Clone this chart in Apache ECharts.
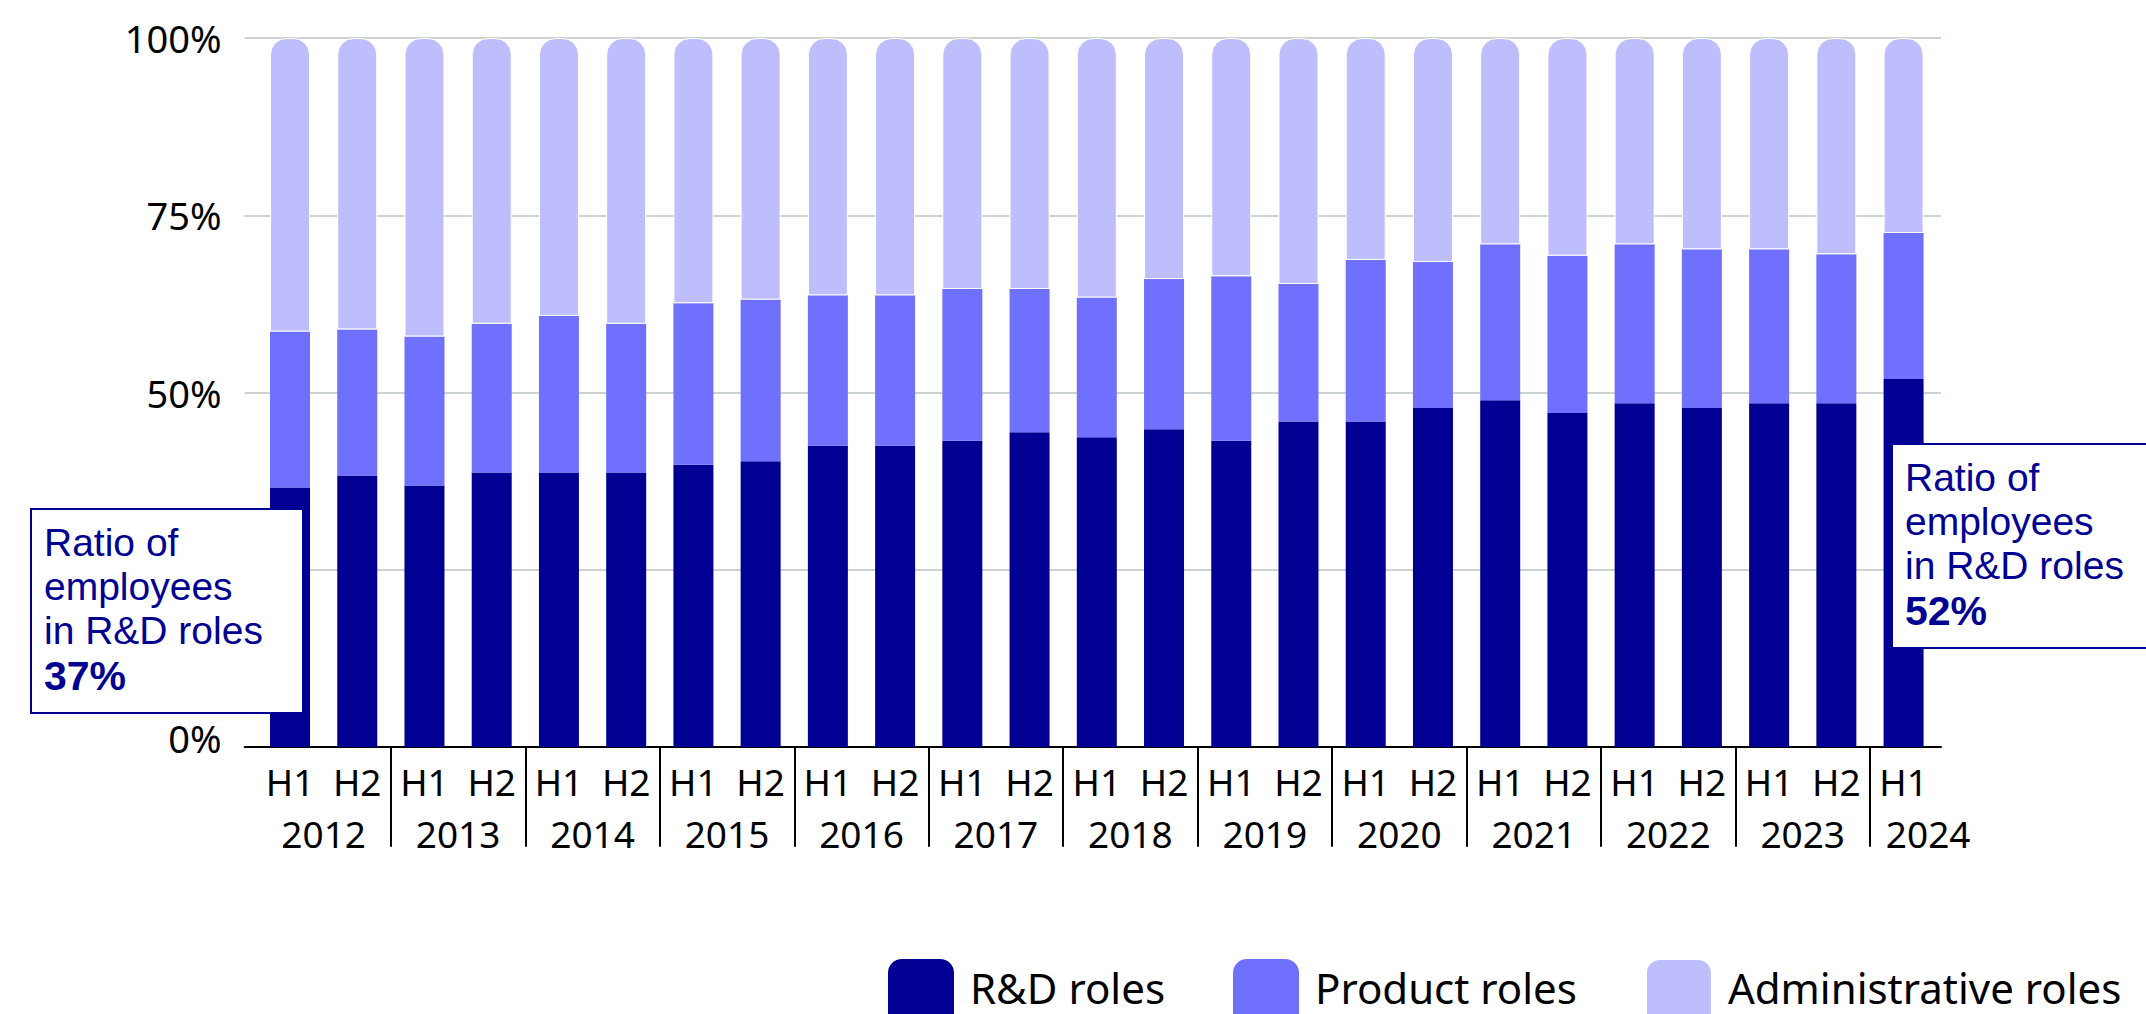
<!DOCTYPE html>
<html>
<head>
<meta charset="utf-8">
<style>
html,body{margin:0;padding:0;background:#fff;}
#chart{width:2146px;height:1014px;}
</style>
<script src="https://cdn.jsdelivr.net/npm/echarts@6/dist/echarts.min.js"></script>
</head>
<body>
<div id="chart"></div>
<script>
// ---------- data ----------
const categories = ['2012 H1','2012 H2','2013 H1','2013 H2','2014 H1','2014 H2','2015 H1','2015 H2',
  '2016 H1','2016 H2','2017 H1','2017 H2','2018 H1','2018 H2','2019 H1','2019 H2','2020 H1','2020 H2',
  '2021 H1','2021 H2','2022 H1','2022 H2','2023 H1','2023 H2','2024 H1'];
const years = ['2012','2013','2014','2015','2016','2017','2018','2019','2020','2021','2022','2023','2024'];
const rdRoles = [36.6, 38.3, 36.9, 38.7, 38.7, 38.7, 39.8, 40.3, 42.5, 42.5, 43.2, 44.4, 43.7, 44.8, 43.2, 45.9, 45.9, 47.8, 48.9, 47.1, 48.5, 47.8, 48.5, 48.5, 51.9];
const productRoles = [22.0, 20.6, 21.0, 21.0, 22.1, 21.0, 22.8, 22.8, 21.2, 21.2, 21.4, 20.2, 19.7, 21.2, 23.2, 19.4, 22.8, 20.6, 22.0, 22.2, 22.4, 22.4, 21.7, 21.0, 20.6];
const adminRoles = [41.4, 41.1, 42.1, 40.3, 39.2, 40.3, 37.4, 36.9, 36.3, 36.3, 35.4, 35.4, 36.6, 34.0, 33.6, 34.7, 31.3, 31.6, 29.1, 30.7, 29.1, 29.8, 29.8, 30.5, 27.5];
const yTicks = [0, 25, 50, 75, 100];
const yTicksHidden = [25]; // covered by the annotation box in the original
const seriesNames = ['R&D roles', 'Product roles', 'Administrative roles'];
const noteLines = ['Ratio of', 'employees', 'in R&D roles'];

// ---------- style ----------
const FONT = "'Noto Sans', sans-serif";
const NOTE_FONT = "'Liberation Sans', Arial, sans-serif";
const C_RD = '#000093', C_PROD = '#7070ff', C_ADMIN = '#bebefd';
const TOP = 38, BOTTOM = 267;

function noteText(v) {
  return noteLines.map(l => '{t|' + l + '}').join('\n') + '\n{b|' + Math.round(v) + '%}';
}
const noteRich = {
  t: {fontSize: 39, lineHeight: 44, fill: C_RD, color: C_RD, fontFamily: NOTE_FONT},
  b: {fontSize: 41, lineHeight: 48, fontWeight: 'bold', fill: C_RD, color: C_RD, fontFamily: NOTE_FONT}
};

const chart = echarts.init(document.getElementById('chart'), null, {renderer: 'svg'});
const sepColors = [];
for (let i = 0; i < 12; i++) sepColors.push('#000');
sepColors.push('rgba(0,0,0,0)');

const option = {
  animation: false,
  backgroundColor: '#fff',
  textStyle: {fontFamily: FONT},
  grid: [
    {left: 244.6, right: 205, top: TOP, bottom: BOTTOM, outerBoundsMode: 'none'},
    {left: 256.4, right: 208.8, top: TOP, bottom: BOTTOM, outerBoundsMode: 'none'},
    {left: 256.4, right: 141.6, top: TOP, bottom: BOTTOM, outerBoundsMode: 'none'},
    {left: 256.4, right: 208.8, top: 746.7, height: 100, outerBoundsMode: 'none'}
  ],
  xAxis: [
    {gridIndex: 0, type: 'category', data: categories,
      axisLine: {lineStyle: {color: '#000', width: 2}}, axisTick: {show: false}, axisLabel: {show: false}, splitLine: {show: false}},
    {gridIndex: 1, type: 'category', data: categories,
      axisLine: {show: false}, axisTick: {show: false},
      axisLabel: {interval: 0, margin: 16, fontSize: 37, color: '#000', fontFamily: FONT,
        formatter: v => v.split(' ')[1]}},
    {gridIndex: 2, type: 'category', data: years,
      axisLine: {show: false}, axisTick: {show: false},
      axisLabel: {interval: 0, margin: 68, fontSize: 37, color: '#000', fontFamily: FONT,
        formatter: v => v === years[years.length - 1] ? '{s|' + v + '}' : v,
        rich: {s: {fontSize: 37, color: '#000', fontFamily: FONT, padding: [0, 18, 0, 0]}}}},
    {gridIndex: 3, type: 'category', data: categories,
      axisLine: {show: false}, axisTick: {show: false}, axisLabel: {show: false},
      splitLine: {show: true, interval: (i) => i > 0 && i % 2 === 0, showMinLine: true, showMaxLine: false,
        lineStyle: {color: sepColors, width: 2}}}
  ],
  yAxis: [
    {gridIndex: 0, type: 'value', min: yTicks[0], max: yTicks[yTicks.length - 1], interval: yTicks[1] - yTicks[0],
      axisLine: {show: false}, axisTick: {show: false},
      axisLabel: {fontSize: 38, color: '#000', margin: 23, fontFamily: FONT,
        formatter: v => yTicksHidden.indexOf(v) >= 0 ? '' : (v === yTicks[0] ? '{z|' + v + '%}' : v + '%'),
        rich: {z: {fontSize: 38, color: '#000', fontFamily: FONT, padding: [0, 0, 18, 0]}}},
      splitLine: {lineStyle: {color: '#cdd3d3', width: 2}}},
    {gridIndex: 1, type: 'value', min: 0, max: 100, show: false},
    {gridIndex: 2, type: 'value', min: 0, max: 100, show: false},
    {gridIndex: 3, type: 'value', min: 0, max: 1, show: false}
  ],
  legend: {
    left: 888, top: 958, padding: 0,
    icon: 'path://M0,14 A14,14 0 0 1 14,0 L52,0 A14,14 0 0 1 66,14 L66,56 L0,56 Z',
    itemWidth: 66, itemHeight: 56, itemGap: 68,
    selectedMode: false,
    data: seriesNames,
    textStyle: {fontSize: 42, color: '#000', fontFamily: FONT, padding: [0, 0, 0, 11]}
  },
  series: [
    {name: seriesNames[0], type: 'bar', stack: 'total', xAxisIndex: 1, yAxisIndex: 1, barWidth: 40,
      itemStyle: {color: C_RD}, data: rdRoles},
    {name: seriesNames[1], type: 'bar', stack: 'total', xAxisIndex: 1, yAxisIndex: 1, barWidth: 40,
      itemStyle: {color: C_PROD}, data: productRoles},
    {name: seriesNames[2], type: 'bar', stack: 'total', xAxisIndex: 1, yAxisIndex: 1, barWidth: 40,
      itemStyle: {color: C_ADMIN, borderColor: '#fff', borderWidth: 1, borderRadius: [16, 16, 0, 0]}, data: adminRoles}
  ],
  graphic: [
    {type: 'text', left: 30, top: 508, z: 100,
      style: {text: noteText(rdRoles[0]), rich: noteRich, width: 244,
        backgroundColor: '#fff', borderColor: C_RD, borderWidth: 2, padding: [10, 14, 12, 12]}},
    {type: 'text', left: 1891, top: 443, z: 100,
      style: {text: noteText(rdRoles[rdRoles.length - 1]), rich: noteRich, width: 244,
        backgroundColor: '#fff', borderColor: C_RD, borderWidth: 2, padding: [10, 14, 12, 12]}}
  ]
};
chart.setOption(option);
</script>
</body>
</html>
